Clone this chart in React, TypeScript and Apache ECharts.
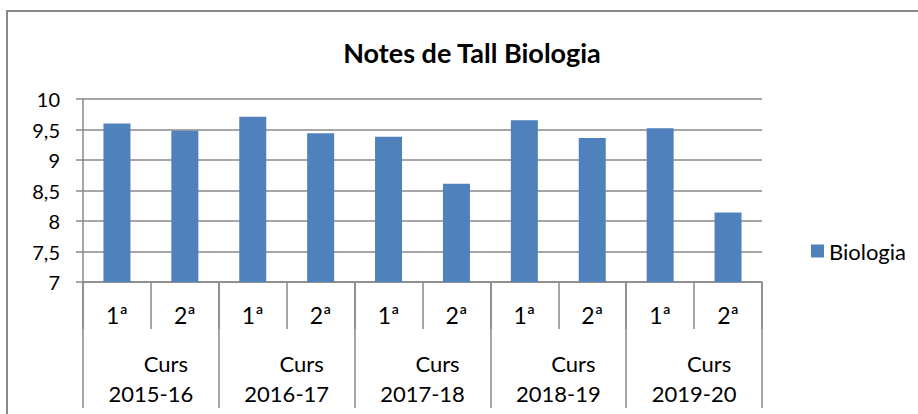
import React, { useEffect, useRef } from "react";
import * as echarts from "echarts";

const sessions = ["1ª", "2ª", "1ª", "2ª", "1ª", "2ª", "1ª", "2ª", "1ª", "2ª"];
const courses = ["2015-16", "2016-17", "2017-18", "2018-19", "2019-20"];
const biologia = [9.6, 9.48, 9.71, 9.44, 9.38, 8.61, 9.65, 9.36, 9.52, 8.14];
const seriesName = "Biologia";
const titleText = "Notes de Tall Biologia";

const FONT = "Lato";
const AXIS = "#898989";

export default function App() {
  const ref = useRef<HTMLDivElement>(null);
  useEffect(() => {
    if (!ref.current) return;
    const chart = echarts.init(ref.current, null, { renderer: "svg" });
    chart.setOption({
      animation: false,
      backgroundColor: "#ffffff",
      textStyle: { fontFamily: FONT },
      title: {
        text: titleText,
        left: 467,
        textAlign: "center",
        top: 34,
        textStyle: { fontFamily: FONT, fontWeight: "bold", fontSize: 27, color: "#000" },
      },
      graphic: [
        {
          type: "rect",
          shape: { x: 7, y: 11, width: 1000, height: 1000 },
          style: { fill: "none", stroke: AXIS, lineWidth: 2 },
          silent: true,
        },
      ],
      legend: {
        data: [seriesName],
        left: 806,
        top: 235,
        itemWidth: 13,
        itemHeight: 13,
        itemGap: 5,
        icon: "rect",
        textStyle: { fontFamily: FONT, fontSize: 22, color: "#000" },
      },
      grid: { left: 83, right: 156, top: 99, bottom: 132, containLabel: false },
      xAxis: [
        {
          type: "category",
          data: sessions,
          position: "bottom",
          axisLine: { show: true, lineStyle: { color: AXIS, width: 1.5 } },
          axisTick: { show: true, interval: 0, length: 47, lineStyle: { color: AXIS, width: 1.5 } },
          axisLabel: { interval: 0, margin: 21, fontFamily: FONT, fontSize: 23, color: "#000" },
        },
        {
          type: "category",
          data: courses,
          position: "bottom",
          axisLine: { show: false },
          axisTick: { show: true, interval: 0, length: 126, lineStyle: { color: AXIS, width: 1.5 } },
          axisLabel: {
            interval: 0,
            margin: 66,
            formatter: (v: string) => `{a|Curs}\n{b|${v}}`,
            rich: {
              a: { fontFamily: FONT, fontSize: 22, color: "#000", lineHeight: 30, padding: [0, 0, 0, 30] },
              b: { fontFamily: FONT, fontSize: 22, color: "#000", lineHeight: 30 },
            },
          },
        },
      ],
      yAxis: {
        type: "value",
        min: 7,
        max: 10,
        interval: 0.5,
        axisLine: { show: true, lineStyle: { color: AXIS, width: 1.5 } },
        axisTick: { show: true, length: 7, lineStyle: { color: AXIS, width: 1.5 } },
        splitLine: { show: true, lineStyle: { color: AXIS, width: 1.5 } },
        axisLabel: {
          margin: 23,
          fontFamily: FONT,
          fontSize: 20,
          color: "#000",
          formatter: (v: number) => String(v).replace(".", ","),
        },
      },
      series: [
        {
          name: seriesName,
          type: "bar",
          data: biologia,
          xAxisIndex: 0,
          barWidth: 27,
          itemStyle: { color: "#4f81bd" },
        },
      ],
    });
    return () => chart.dispose();
  }, []);
  return (
    <div
      ref={ref}
      style={{ position: "fixed", left: 0, top: 0, width: 918, height: 414 }}
    />
  );
}
